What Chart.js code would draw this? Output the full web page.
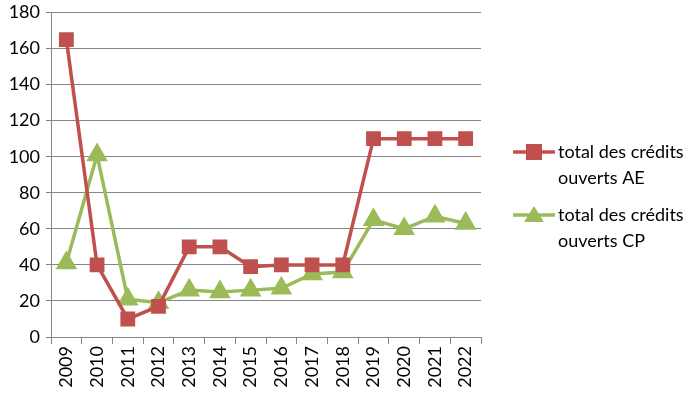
<!DOCTYPE html>
<html>
<head>
<meta charset="utf-8">
<script src="https://cdn.jsdelivr.net/npm/chart.js@4/dist/chart.umd.min.js"></script>
<style>
  body { margin: 0; background: #fff; }
  #wrap { width: 698px; height: 394px; }
</style>
</head>
<body>
<div id="wrap"><canvas id="credits" width="698" height="394"></canvas></div>
<script>
// Data
const years = ["2009", "2010", "2011", "2012", "2013", "2014", "2015", "2016", "2017", "2018", "2019", "2020", "2021", "2022"];
const totalAE = [165, 40, 10, 17, 50, 50, 39, 40, 40, 40, 110, 110, 110, 110];
const totalCP = [41, 101, 21, 19, 26, 25, 26, 27, 35, 36, 65, 60, 67, 63];
const legendLabels = [["total des crédits", "ouverts AE"], ["total des crédits", "ouverts CP"]];

const FONT = "Lato, 'Open Sans', sans-serif";

// Legend drawn beside the plot, two lines per entry
const sideLegend = {
  id: "sideLegend",
  afterDraw(chart) {
    const c = chart.ctx;
    const rows = [152, 215];
    chart.data.datasets.forEach((ds, i) => {
      const y = rows[i];
      c.save();
      c.strokeStyle = ds.borderColor;
      c.lineWidth = 3.5;
      c.beginPath();
      c.moveTo(513, y);
      c.lineTo(555, y);
      c.stroke();
      c.fillStyle = ds.backgroundColor;
      if (ds.pointStyle === "rect") {
        c.fillRect(526, y - 8, 16, 16);
      } else {
        c.beginPath();
        c.moveTo(534, y - 9);
        c.lineTo(544, y + 7);
        c.lineTo(524, y + 7);
        c.closePath();
        c.fill();
      }
      c.fillStyle = "#000";
      c.font = "18px " + FONT;
      c.textBaseline = "middle";
      c.fillText(legendLabels[i][0], 558, y);
      c.fillText(legendLabels[i][1], 558, y + 26);
      c.restore();
    });
  }
};

const ctx = document.getElementById("credits").getContext("2d");
new Chart(ctx, {
  type: "line",
  data: {
    labels: years,
    datasets: [
      {
        label: "total des crédits ouverts AE",
        data: totalAE,
        borderColor: "#C0504D",
        backgroundColor: "#C0504D",
        borderWidth: 3.5,
        pointStyle: "rect",
        pointRadius: 8,
        tension: 0,
      },
      {
        label: "total des crédits ouverts CP",
        data: totalCP,
        borderColor: "#9BBB59",
        backgroundColor: "#9BBB59",
        borderWidth: 3.5,
        pointStyle: "triangle",
        pointRadius: 9,
        tension: 0,
      },
    ],
  },
  options: {
    responsive: false,
    animation: false,
    layout: { padding: { top: 7, right: 217, left: 0, bottom: 0 } },
    plugins: { legend: { display: false }, tooltip: { enabled: false } },
    scales: {
      x: {
        offset: true,
        afterFit(scale) { scale.height = 57; },
        grid: { offset: true, drawOnChartArea: false, drawTicks: true, tickLength: 7, color: "#868686" },
        border: { color: "#868686", width: 1 },
        ticks: { maxRotation: 90, minRotation: 90, color: "#000", font: { family: FONT, size: 18 }, padding: 2 },
      },
      y: {
        min: 0,
        max: 180,
        afterFit(scale) { scale.width = 51; scale.paddingTop = 0; scale.paddingBottom = 0; },
        grid: { color: "#868686", tickLength: 5 },
        border: { color: "#868686", width: 1 },
        ticks: { stepSize: 20, color: "#000", font: { family: FONT, size: 18 }, padding: 6 },
      },
    },
  },
  plugins: [sideLegend],
});
</script>
</body>
</html>
